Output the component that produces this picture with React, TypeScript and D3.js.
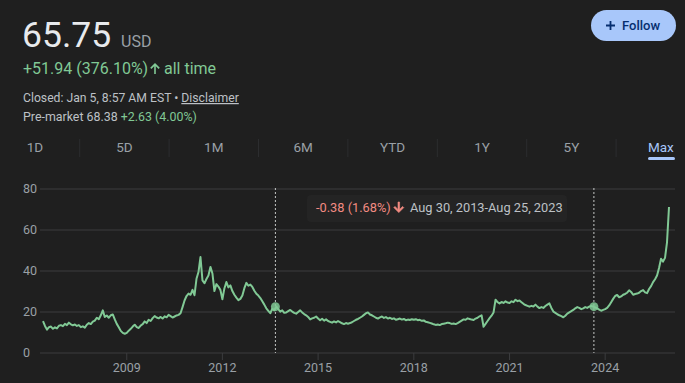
import React from "react";
import * as d3 from "d3";

// ---- Data ----
const SERIES_START = 2006.375; // decimal year of first point
const STEP = 1 / 16; // spacing between points, in years

const closes: number[] = [
  // 2006 (from May)
  15.5, 13.2, 11.4, 12.6, 12.9, 11.8, 12.5, 12.0, 13.3, 13.6,
  // 2007
  13.1, 14.2, 13.6, 14.8, 14.0, 13.5, 13.9, 13.2, 13.6, 12.6, 13.0, 12.4, 13.8, 14.6, 14.1, 15.3,
  // 2008
  15.8, 17.2, 16.5, 18.4, 20.8, 17.6, 18.3, 17.2, 18.4, 18.8, 16.4, 14.2, 12.6, 10.8, 9.8, 9.4,
  // 2009
  9.8, 10.9, 11.8, 12.9, 13.8, 12.6, 12.2, 13.4, 14.1, 15.4, 14.6, 16.2, 15.6, 17.0, 18.0, 17.3,
  // 2010
  16.9, 17.6, 16.8, 17.9, 17.4, 18.6, 18.0, 17.3, 17.8, 18.3, 18.6, 19.4, 22.4, 25.6, 27.8, 29.0,
  // 2011
  28.4, 30.8, 28.2, 36.2, 39.5, 46.8, 35.4, 34.0, 36.1, 37.8, 42.0, 38.8, 30.2, 33.6, 32.4, 30.8,
  // 2012
  26.2, 31.5, 34.6, 32.0, 33.0, 30.2, 28.4, 27.0, 25.8, 26.4, 28.0, 31.6, 34.2, 32.8, 33.4, 32.2,
  // 2013
  30.4, 28.9, 28.0, 26.8, 25.2, 23.6, 21.8, 20.6, 19.4, 21.6, 20.8, 22.6, 21.4, 20.2, 20.8, 19.6,
  // 2014
  19.8, 20.4, 21.0, 20.2, 19.6, 19.2, 20.0, 20.8, 19.8, 19.0, 18.4, 17.6, 16.4, 16.9, 17.2, 17.8,
  // 2015
  16.8, 16.0, 16.7, 15.8, 16.4, 15.6, 15.2, 14.8, 15.4, 14.9, 15.6, 15.1, 14.5, 14.1, 14.6, 14.3,
  // 2016
  14.6, 15.0, 15.6, 16.2, 16.6, 17.2, 17.8, 18.6, 19.4, 19.8, 18.8, 18.4, 17.8, 17.2, 16.8, 17.4,
  // 2017
  17.8, 17.1, 17.5, 16.8, 17.2, 16.6, 16.9, 16.2, 16.5, 16.8, 16.3, 16.6, 16.0, 16.3, 16.1, 16.5,
  // 2018
  16.2, 16.5, 16.0, 16.2, 15.7, 15.9, 15.2, 15.0, 14.7, 14.4, 14.0, 13.7, 13.9, 13.6, 14.1, 14.3,
  // 2019
  14.5, 14.8, 14.6, 14.2, 14.4, 14.1, 14.6, 15.2, 15.8, 16.4, 16.2, 16.9, 16.6, 16.3, 16.1, 16.8,
  // 2020
  17.2, 17.9, 18.4, 12.8, 14.2, 15.6, 17.0, 18.2, 19.8, 26.0, 24.8, 24.2, 24.9, 24.4, 25.2, 24.6,
  // 2021
  24.4, 25.2, 24.8, 26.0, 25.3, 25.6, 24.8, 24.0, 23.4, 23.0, 22.6, 23.0, 22.7, 23.6, 22.6, 21.9,
  // 2022
  22.4, 22.0, 22.9, 23.6, 24.2, 22.0, 20.2, 19.6, 18.9, 18.4, 18.0, 17.4, 18.2, 19.2, 19.8, 20.4,
  // 2023
  21.0, 21.8, 22.4, 22.0, 21.4, 21.8, 22.4, 22.0, 22.6, 23.0, 22.6, 22.2, 21.8, 21.2, 20.6, 21.0,
  // 2024
  21.4, 22.0, 23.2, 24.8, 26.4, 27.8, 28.3, 27.2, 27.6, 28.4, 28.8, 29.4, 30.6, 29.8, 28.4, 28.8,
  // 2025
  29.0, 29.4, 30.2, 30.7, 29.6, 29.2, 31.2, 32.6, 34.6, 36.0, 37.8, 41.5, 46.0, 44.6, 46.4, 54.0,
  // 2026 (Jan)
  71.2,
];

const yTicks = [0, 20, 40, 60, 80];
const xTickYears = [2009, 2012, 2015, 2018, 2021, 2024];
const markerDates = ["2013-08-30", "2023-08-25"];
const tabs = ["1D", "5D", "1M", "6M", "YTD", "1Y", "5Y", "Max"];
const activeTab = "Max";

function decYearToDate(t: number): Date {
  const y = Math.floor(t);
  const a = Date.UTC(y, 0, 1);
  const b = Date.UTC(y + 1, 0, 1);
  return new Date(a + (t - y) * (b - a));
}

const data = closes.map((c, i) => ({ date: decYearToDate(SERIES_START + i * STEP), close: c }));

const W = 685;
const H = 383;
const FONT = "Roboto, Arial, sans-serif";
const BG = "#1f1f1f";
const GREEN = "#81c995";
const RED = "#f28b82";
const GREY = "#9aa0a6";
const LIGHT = "#bdc1c6";
const GRID = "#3c3d3f";

export default function App() {
  const x = d3
    .scaleUtc()
    .domain(d3.extent(data, (d) => d.date) as [Date, Date])
    .range([43, 669]);
  const y = d3.scaleLinear().domain([0, 80]).range([353, 189]);

  const line = d3
    .line<{ date: Date; close: number }>()
    .x((d) => x(d.date))
    .y((d) => y(d.close))
    .curve(d3.curveLinear);

  const bisect = d3.bisector((d: { date: Date }) => d.date).center;
  const markers = markerDates.map((s) => {
    const dt = new Date(s + "T00:00:00Z");
    const p = data[bisect(data, dt)];
    return { x: x(dt), y: y(p.close) };
  });

  const tabStart = 35;
  const tabStep = 89.4;

  return (
    <svg
      width={W}
      height={H}
      style={{ position: "absolute", left: 0, top: 0, background: BG }}
      fontFamily={FONT}
    >
      <rect x={0} y={0} width={W} height={H} fill={BG} />

      {/* Header */}
      <text x={22} y={47} fontSize={35.5} fill="#e8eaed">65.75</text>
      <text x={121} y={47} fontSize={16} fill={GREY}>USD</text>
      <text x={23} y={74} fontSize={16} fill={GREEN}>+51.94 (376.10%)</text>
      <path d="M155 63 L150.2 67.8 L151.4 69 L154.2 66.2 L154.2 74 L155.8 74 L155.8 66.2 L158.6 69 L159.8 67.8 Z" fill={GREEN} />
      <text x={164} y={74} fontSize={16} fill={GREEN}>all time</text>
      <text x={23} y={102} fontSize={12.2} fill={LIGHT}>
        Closed: Jan 5, 8:57 AM EST •{" "}
        <tspan textDecoration="underline">Disclaimer</tspan>
      </text>
      <text x={23} y={121} fontSize={12.4} fill={LIGHT}>
        Pre-market 68.38 <tspan fill={GREEN}>+2.63 (4.00%)</tspan>
      </text>

      {/* Follow button */}
      <rect x={591} y={10} width={85} height={31} rx={15.5} fill="#a8c7fa" />
      <path d="M610.5 21 v9 M606 25.5 h9" stroke="#062e6f" strokeWidth={1.8} />
      <text x={622} y={30} fontSize={13} fontWeight={500} fill="#062e6f">Follow</text>

      {/* Tabs */}
      {tabs.map((t, i) => (
        <g key={t}>
          <text
            x={tabStart + i * tabStep}
            y={152}
            fontSize={13.5}
            fontWeight={400}
            textAnchor="middle"
            fill={t === activeTab ? "#a8c7fa" : GREY}
          >
            {t}
          </text>
          {i > 0 && (
            <line
              x1={tabStart + (i - 0.5) * tabStep}
              x2={tabStart + (i - 0.5) * tabStep}
              y1={139}
              y2={157}
              stroke="#2c2d2f"
              strokeWidth={1}
            />
          )}
        </g>
      ))}
      <rect x={648} y={157} width={27} height={3} rx={1.5} fill="#a8c7fa" />

      {/* Grid + y labels */}
      {yTicks.map((v) => (
        <g key={v}>
          <line x1={40} x2={675} y1={y(v)} y2={y(v)} stroke={GRID} strokeWidth={1.2} />
          <text x={23} y={y(v) + 4.3} fontSize={12.5} fill={GREY}>{v}</text>
        </g>
      ))}

      {/* x ticks */}
      {xTickYears.map((yr) => {
        const xx = x(new Date(Date.UTC(yr, 0, 1)));
        return (
          <g key={yr}>
            <line x1={xx} x2={xx} y1={353} y2={360} stroke={GRID} strokeWidth={1} />
            <text x={xx} y={372} fontSize={12.5} textAnchor="middle" fill={GREY}>{yr}</text>
          </g>
        );
      })}

      {/* marker dotted lines */}
      {markers.map((m, i) => (
        <line key={i} x1={m.x} x2={m.x} y1={188} y2={353} stroke="#c4c7c5" strokeWidth={1} strokeDasharray="2,2" />
      ))}

      {/* price line */}
      <path d={line(data) || ""} fill="none" stroke={GREEN} strokeWidth={2} strokeLinejoin="round" />

      {markers.map((m, i) => (
        <circle key={i} cx={m.x} cy={m.y} r={4.5} fill={GREEN} opacity={0.85} />
      ))}

      {/* range tooltip */}
      <rect x={307} y={195} width={260} height={27} rx={4} fill="#242424" />
      <text x={316} y={212} fontSize={12.8} fill={RED}>-0.38 (1.68%)</text>
      <path d="M398 202 L398 209.4 L395 206.4 L393.8 207.6 L398.8 212.6 L403.8 207.6 L402.6 206.4 L399.6 209.4 L399.6 202 Z" fill={RED} stroke={RED} strokeWidth={0.6} />
      <text x={410} y={212} fontSize={12.8} fill={LIGHT}>Aug 30, 2013-Aug 25, 2023</text>
    </svg>
  );
}
